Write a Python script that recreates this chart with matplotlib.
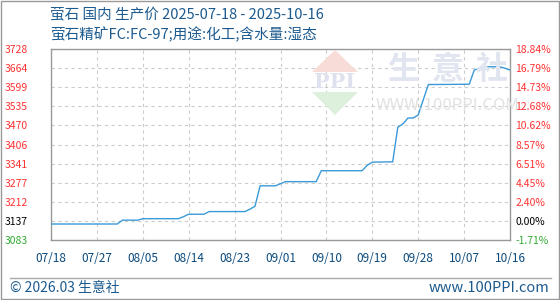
import matplotlib
matplotlib.use("Agg")
import matplotlib.pyplot as plt
from matplotlib.patches import Polygon, Rectangle
from matplotlib.lines import Line2D

plt.rcParams['font.family'] = ['Noto Sans CJK SC', 'DejaVu Sans']

# days since 2025-07-18 and price (yuan/ton)
days = [0, 13, 14, 17, 18, 25, 26, 27, 30, 31, 38, 39, 40, 41, 44, 45, 46, 52,
        53, 61, 62, 63, 67, 68, 69, 70, 71, 72, 73, 74, 82, 83, 84, 85, 88, 89, 90]
prices = [3137, 3137, 3150, 3150, 3155, 3155, 3162, 3170, 3170, 3179, 3179, 3187,
          3197, 3266, 3266, 3273, 3280, 3280, 3317, 3317, 3335, 3346, 3347, 3464,
          3475, 3495, 3495, 3505, 3557, 3608, 3609, 3657, 3663, 3668, 3668, 3663, 3657]

x_ticks = [0, 9, 18, 27, 36, 45, 54, 63, 72, 81, 90]
x_labels = ['07/18', '07/27', '08/05', '08/14', '08/23', '09/01',
            '09/10', '09/19', '09/28', '10/07', '10/16']

y_min, y_max = 3083, 3728
y_labels = ['3083', '3137', '3212', '3277', '3341', '3406',
            '3470', '3535', '3599', '3664', '3728']
pct_labels = ['-1.71%', '0.00%', '2.40%', '4.45%', '6.51%', '8.57%',
              '10.62%', '12.68%', '14.73%', '16.79%', '18.84%']

title = '萤石 国内 生产价 2025-07-18 - 2025-10-16'
subtitle = '萤石精矿FC:FC-97;用途:化工;含水量:湿态'

W, H = 560, 300
fig = plt.figure(figsize=(W / 100, H / 100), dpi=100)


def fx(px):
    return px / W


def fy(py):
    return 1 - py / H


# watermark (drawn behind the axes)
fig.patches.append(Polygon([(fx(312), fy(72)), (fx(358), fy(72)), (fx(335), fy(50))],
                           closed=True, transform=fig.transFigure,
                           facecolor='#f8dcd8', edgecolor='none', zorder=0))
fig.patches.append(Polygon([(fx(312), fy(92)), (fx(358), fy(92)), (fx(335), fy(115))],
                           closed=True, transform=fig.transFigure,
                           facecolor='#dcf0dc', edgecolor='none', zorder=0))
fig.text(fx(335), fy(82), 'PPI', ha='center', va='center', fontsize=15,
         color='#dde2ee', fontweight='bold', zorder=0, family='DejaVu Serif')
for cx, ch in zip([403, 448, 492], '生意社'):
    fig.text(fx(cx), fy(70), ch, ha='center', va='center', fontsize=23,
             color='#e0e5ef', fontweight='bold', zorder=0)
fig.text(fx(447), fy(105), 'WWW.100PPI.COM', ha='center', va='center', fontsize=12,
         color='#e2e2e2', zorder=0)

ax = fig.add_axes([fx(51), fy(240), fx(459), (240 - 49) / H])
ax.patch.set_alpha(0)
ax.plot(days, prices, color='#3a9ad9', lw=1.0, zorder=3)

ax.set_xlim(0, 90)
ax.set_ylim(y_min, y_max)
grid_y = [y_min + i * (y_max - y_min) / 10 for i in range(11)]
ax.set_xticks(x_ticks)
ax.set_xticklabels(x_labels)
ax.set_yticks(grid_y)
ax.set_yticklabels(y_labels)
ax.grid(True, color='#cccccc', linestyle=(0, (3, 3)), lw=0.8)
ax.tick_params(axis='x', length=0, pad=9, labelsize=8.5, labelcolor='#0b4a7c')
ax.tick_params(axis='y', length=0, pad=16.5, labelsize=7.5)
for i, lab in enumerate(ax.get_yticklabels()):
    lab.set_color('#33aa33' if i == 0 else ('black' if i == 1 else '#ff3333'))
for s in ax.spines.values():
    s.set_color('#999999')
    s.set_linewidth(1.0)

ax2 = ax.twinx()
ax2.set_ylim(y_min, y_max)
ax2.set_yticks(grid_y)
ax2.set_yticklabels(pct_labels)
ax2.tick_params(axis='y', length=0, pad=4, labelsize=7.5)
for i, lab in enumerate(ax2.get_yticklabels()):
    lab.set_color('#33aa33' if i == 0 else ('black' if i == 1 else '#ff3333'))
for s in ax2.spines.values():
    s.set_visible(False)

fig.text(fx(50), fy(15), title, ha='left', va='center', fontsize=10.5, color='#1b5a8e')
fig.text(fx(50), fy(35), subtitle, ha='left', va='center', fontsize=10.5, color='#1b5a8e')

# footer
fig.add_artist(Line2D([fx(10), fx(551)], [fy(278), fy(278)], transform=fig.transFigure,
                      color='#aaaaaa', lw=1.0))
fig.text(fx(10), fy(288), '© 2026.03 生意社', ha='left', va='center', fontsize=10,
         color='#1b5a8e')
fig.text(fx(549), fy(288), 'www.100PPI.com', ha='right', va='center', fontsize=10.5,
         color='#1b5a8e')
fig.add_artist(Rectangle((0.001, 0.002), 0.997, 0.995, transform=fig.transFigure,
                         fill=False, edgecolor='#999999', lw=1.0))

fig.savefig('out.png', dpi=100)
